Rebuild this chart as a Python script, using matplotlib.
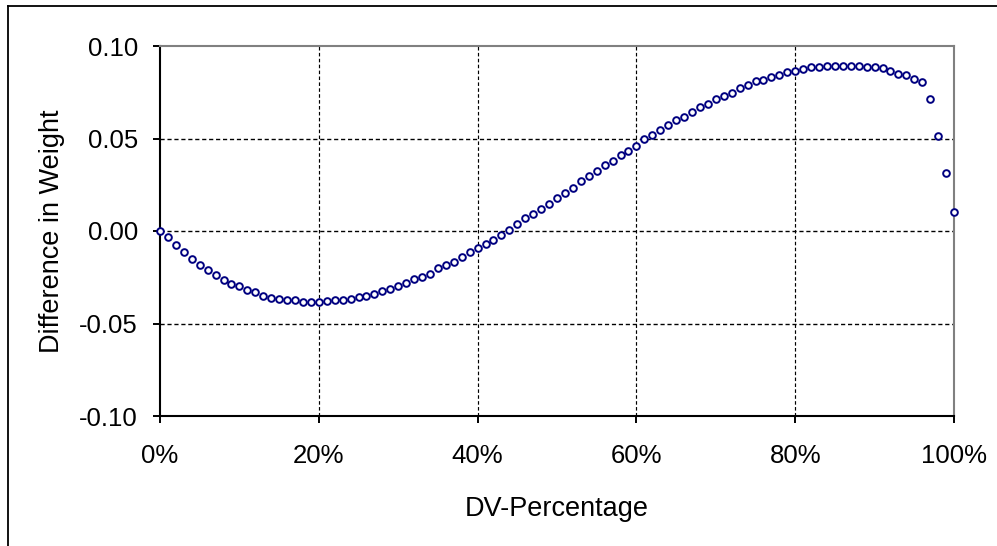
import matplotlib
matplotlib.use("Agg")
import matplotlib.pyplot as plt
from matplotlib.lines import Line2D

plt.rcParams['font.family'] = ['Liberation Sans', 'DejaVu Sans']
plt.rcParams['axes.unicode_minus'] = False

# DV share in percent, one sample per step
dv_pct = list(range(0, 101))

# weight difference at each DV share
weight_diff = [
    0.0000, -0.0034, -0.0078, -0.0112, -0.0152, -0.0186, -0.0212, -0.0237, -0.0266, -0.0284,
    -0.0297, -0.0317, -0.0330, -0.0352, -0.0360, -0.0368, -0.0373, -0.0375, -0.0382, -0.0384,
    -0.0384, -0.0380, -0.0374, -0.0373, -0.0366, -0.0357, -0.0350, -0.0342, -0.0324, -0.0313,
    -0.0297, -0.0281, -0.0262, -0.0246, -0.0230, -0.0199, -0.0185, -0.0168, -0.0141, -0.0112,
    -0.0091, -0.0069, -0.0047, -0.0022, 0.0007, 0.0040, 0.0068, 0.0094, 0.0120, 0.0147,
    0.0180, 0.0207, 0.0234, 0.0268, 0.0295, 0.0323, 0.0355, 0.0380, 0.0409, 0.0431,
    0.0458, 0.0495, 0.0520, 0.0545, 0.0574, 0.0598, 0.0616, 0.0643, 0.0668, 0.0687,
    0.0712, 0.0730, 0.0748, 0.0772, 0.0790, 0.0810, 0.0815, 0.0833, 0.0844, 0.0861,
    0.0866, 0.0877, 0.0888, 0.0886, 0.0893, 0.0893, 0.0893, 0.0893, 0.0893, 0.0888,
    0.0888, 0.0879, 0.0866, 0.0850, 0.0845, 0.0824, 0.0806, 0.0712, 0.0511, 0.0311,
    0.0103,
]

x_ticks = [0, 20, 40, 60, 80, 100]
x_labels = ['0%', '20%', '40%', '60%', '80%', '100%']
y_ticks = [-0.10, -0.05, 0.00, 0.05, 0.10]
y_labels = ['-0.10', '-0.05', '0.00', '0.05', '0.10']

W, H = 997, 546
fig = plt.figure(figsize=(W / 100, H / 100), dpi=100)
ax = fig.add_axes([160 / W, (H - 416) / H, (954 - 160) / W, (416 - 46) / H])

# dashed grid, drawn by hand so the top/right border stays solid
for gx in x_ticks[1:-1]:
    ax.axvline(gx, color='black', lw=0.85, ls=(0, (3, 2)), zorder=1)
for gy in y_ticks[1:-1]:
    ax.axhline(gy, color='black', lw=1.0, ls=(0, (3, 2)), zorder=1)

ax.plot(dv_pct, weight_diff, ls='none', marker='o', ms=4.8, mew=1.4,
        mec='#000080', mfc='white', zorder=3, clip_on=False)

ax.set_xlim(0, 100)
ax.set_ylim(-0.10, 0.10)
ax.set_xticks(x_ticks)
ax.set_xticklabels(x_labels)
ax.set_yticks(y_ticks)
ax.set_yticklabels(y_labels)

for side in ('left', 'bottom'):
    ax.spines[side].set_color('black')
    ax.spines[side].set_linewidth(1.5)
for side in ('top', 'right'):
    ax.spines[side].set_color('#808080')
    ax.spines[side].set_linewidth(1.5)

ax.tick_params(axis='both', direction='out', length=5, width=1.4,
               labelsize=18.5, colors='black')
ax.tick_params(axis='x', pad=15)
ax.tick_params(axis='y', pad=11)

ax.set_xlabel('DV-Percentage', fontsize=19.5, labelpad=20)
ax.set_ylabel('Difference in Weight', fontsize=19.5, labelpad=10)

# outer chart frame (runs off the right and bottom edges)
fig.add_artist(Line2D([7.5 / W, 1.05], [1 - 5.5 / H, 1 - 5.5 / H],
                      transform=fig.transFigure, color='black', lw=1.3))
fig.add_artist(Line2D([7.5 / W, 7.5 / W], [1 - 5.5 / H, -0.05],
                      transform=fig.transFigure, color='black', lw=1.3))

fig.savefig('out.png', dpi=100)
